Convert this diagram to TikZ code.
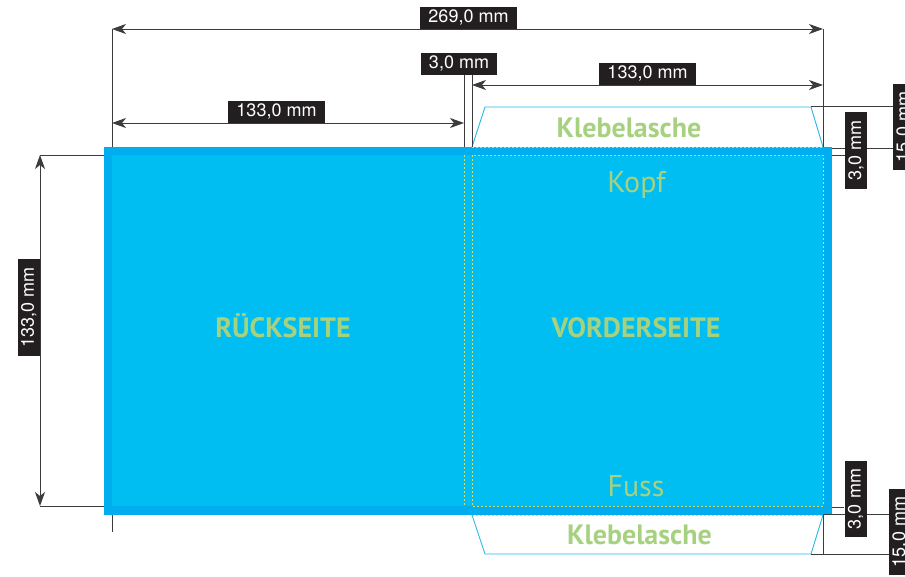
\documentclass[tikz,border=0pt]{standalone}
\usepackage{fontspec}
\setmainfont{TeX Gyre Heros}
\newfontfamily\panelfont{PT Sans}
\usetikzlibrary{arrows.meta}
\usetikzlibrary{calc}

\definecolor{bleedblue}{RGB}{0,174,239}
\definecolor{pageblue}{RGB}{0,190,242}
\definecolor{flapline}{RGB}{41,182,232}
\definecolor{textgreen}{RGB}{166,210,128}
\definecolor{foldline}{RGB}{205,222,110}
\definecolor{dimgrey}{RGB}{60,60,60}
\definecolor{tagblack}{RGB}{35,31,32}

\begin{document}
\begin{tikzpicture}[x=1pt, y=-1pt,
	dim/.style={draw=dimgrey, line width=0.9pt},
	dimarrow/.style={dim, {Stealth[length=14pt,width=10pt,inset=4pt]}-{Stealth[length=14pt,width=10pt,inset=4pt]}},
	tag/.style={fill=tagblack, text=white, font=\fontsize{18}{18}\selectfont, inner xsep=8pt, inner ysep=0pt, minimum height=22pt},
	fold/.style={draw=foldline, line width=0.6pt, dash pattern=on 2pt off 2pt},
	flap/.style={draw=flapline, line width=0.9pt},
	sidetext/.style={text=textgreen, inner sep=0pt, font=\panelfont\bfseries\fontsize{28}{28}\selectfont},
	flaptext/.style={sidetext},
	edgetext/.style={text=textgreen, inner sep=0pt, font=\panelfont\fontsize{30}{30}\selectfont}]
	\useasboundingbox (0,0) rectangle (905,576);

	\coordinate (bleed-nw) at (104,147);
	\coordinate (bleed-se) at (832,515);
	\coordinate (trim-nw) at (112,155);
	\coordinate (trim-se) at (823,506);
	\coordinate (spine-l) at (464,155);
	\coordinate (spine-r) at (472,155);
	\fill[bleedblue] (bleed-nw) rectangle (bleed-se);
	\fill[pageblue] (trim-nw) rectangle (trim-se);

	\draw[fold] (spine-l) -- (464,506);
	\draw[fold] (spine-r) rectangle (trim-se);
	\draw[fold] (472,147) -- (823,147);
	\draw[fold] (472,515) -- (823,515);

	\draw[flap] (472,147) -- (485,107) -- (811,107) -- (823,147);
	\draw[flap] (472,515) -- (485,554) -- (811,554) -- (823,515);

	\node[sidetext, anchor=base] (back) at (283,337) {RÜCKSEITE};
	\node[sidetext, anchor=base] (front) at (636,337) {VORDERSEITE};
	\node[flaptext, anchor=base] (flap-top) at (629,137) {Klebelasche};
	\node[flaptext, anchor=base] (flap-bottom) at (639.5,544) {Klebelasche};
	\node[edgetext, anchor=base] (head) at (636.5,192) {Kopf};
	\node[edgetext, anchor=base] (foot) at (636,496) {Fuss};

	\draw[dim] (112,29) -- (112,147) (112,515) -- (112,532);
	\draw[dim] (464,75) -- (464,147) (472,75) -- (472,147);
	\draw[dim] (823,29) -- (823,147) (823,515) -- (823,554);
	\draw[dim] (40,155) -- (104,155) (40,506) -- (104,506);
	\draw[dim] (811,106) -- (893,106) (832,148) -- (893,148) (832,155) -- (845,155);
	\draw[dim] (832,507) -- (844,507) (823,514) -- (889,514) (811,554) -- (889,554);

	\draw[dimarrow] (112,29) -- (823,29);
	\draw[dimarrow] (112,123) -- (464,123);
	\draw[dimarrow] (472,85) -- (823,85);
	\draw[dimarrow] (40,155) -- (40,506);

	\node[tag, anchor=south] (total) at (468.5,29) {269,0 mm};
	\node[tag, anchor=south] (backwidth) at (276.5,123) {133,0 mm};
	\node[tag, anchor=south] (spine) at (459,75) {3,0 mm};
	\node[tag, anchor=south] (frontwidth) at (647.5,85) {133,0 mm};
	\node[tag, anchor=south, rotate=90] (height) at (40,307.5) {133,0 mm};
	\node[tag, rotate=90] (bleedtop) at (856,150.5) {3,0 mm};
	\node[tag, rotate=90] (flaptop) at (904,127) {15,0 mm};
	\node[tag, rotate=90] (bleedbottom) at (855.5,499) {3,0 mm};
	\node[tag, rotate=90] (flapbottom) at (900,532) {15,0 mm};
\end{tikzpicture}
\end{document}
